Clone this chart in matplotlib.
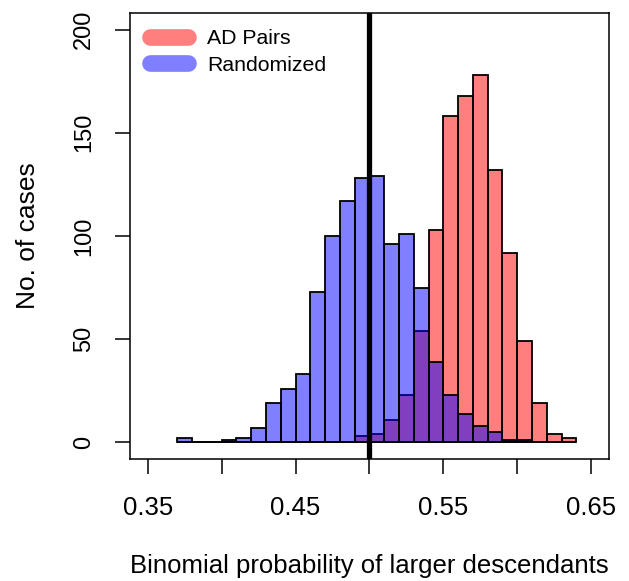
import numpy as np
import matplotlib
matplotlib.use("Agg")
import matplotlib.pyplot as plt

plt.rcParams['font.family'] = ['Liberation Sans', 'DejaVu Sans']

# histogram bins (left edges), width 0.01
bin_left = [0.37, 0.38, 0.39, 0.40, 0.41, 0.42, 0.43, 0.44, 0.45, 0.46,
            0.47, 0.48, 0.49, 0.50, 0.51, 0.52, 0.53, 0.54, 0.55, 0.56,
            0.57, 0.58, 0.59, 0.60, 0.61, 0.62, 0.63]
ad_pairs = [0, 0, 0, 0, 0, 0, 0, 0, 0, 0,
            0, 0, 3, 4, 11, 23, 54, 103, 158, 168,
            178, 132, 92, 49, 19, 4, 2]
randomized = [2, 0, 0, 1, 2, 7, 19, 26, 33, 73,
              100, 117, 128, 129, 96, 101, 75, 39, 23, 14,
              8, 5, 1, 1, 0, 0, 0]
bin_width = 0.01

x_ticks = [0.35, 0.40, 0.45, 0.50, 0.55, 0.60, 0.65]
x_labels = ["0.35", "", "0.45", "", "0.55", "", "0.65"]
y_ticks = [0, 50, 100, 150, 200]

fig = plt.figure(figsize=(6.29, 5.81), dpi=100)
ax = fig.add_axes([0.2067, 0.21, 0.7613, 0.7676])

red = (1, 0, 0, 0.5)
blue = (0, 0, 1, 0.5)
ax.bar(bin_left, ad_pairs, width=bin_width, align='edge', color=red,
       edgecolor='black', linewidth=1.3)
ax.bar(bin_left, randomized, width=bin_width, align='edge', color=blue,
       edgecolor='black', linewidth=1.3)

ax.axvline(0.5, color='black', linewidth=3.8)

ax.set_xlim(0.338, 0.662)
ax.set_ylim(-8, 208)
ax.set_xticks(x_ticks)
ax.set_xticklabels(x_labels)
ax.set_yticks(y_ticks)
ax.set_yticklabels([str(v) for v in y_ticks], rotation=90, va='center')
ax.tick_params(direction='out', length=11, width=1.1)
ax.tick_params(axis='x', labelsize=18.5, pad=16)
ax.tick_params(axis='y', labelsize=17, pad=14)
for s in ax.spines.values():
    s.set_linewidth(1.1)

ax.set_xlabel("Binomial probability of larger descendants", fontsize=18.5, labelpad=24)
ax.set_ylabel("No. of cases", fontsize=19, labelpad=24)

ax.plot([], [], color=red, linewidth=12, solid_capstyle='round', label='AD Pairs')
ax.plot([], [], color=blue, linewidth=12, solid_capstyle='round', label='Randomized')
ax.legend(loc='upper left', frameon=False, fontsize=15.3, handlelength=1.8,
          handletextpad=0.92, labelspacing=0.34, borderaxespad=0.52,
          bbox_to_anchor=(0.0, 1.007))

fig.savefig("out.png", dpi=100)
